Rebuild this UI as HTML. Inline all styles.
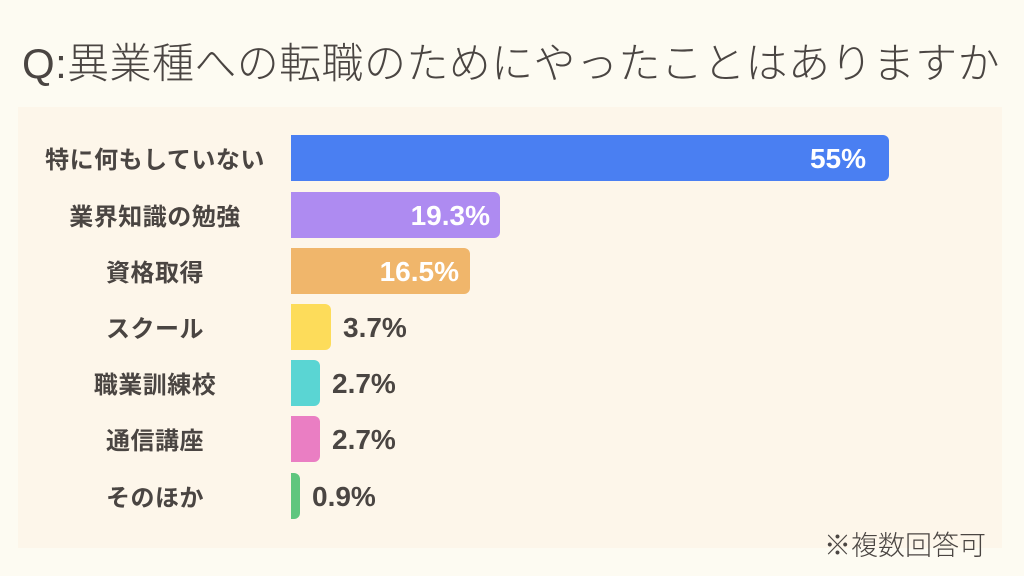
<!DOCTYPE html>
<html><head><meta charset="utf-8"><style>
body{margin:0;width:1024px;height:576px;background:#fdfbf2;position:relative;overflow:hidden;font-family:"Liberation Sans","Noto Sans CJK JP",sans-serif;color:#4a4542}
.t{position:absolute;left:22px;top:30px;font-size:42px;font-weight:300;letter-spacing:0.4px;white-space:nowrap}
.p{position:absolute;left:18px;top:107px;width:984px;height:441px;background:#fdf6ea}
.l{position:absolute;width:260px;left:25px;text-align:center;font-weight:bold;font-size:24px;letter-spacing:0.5px;height:46px;line-height:46px;margin-top:3px}
.b{position:absolute;left:291px;height:46px;border-radius:0 6px 6px 0}
.v{position:absolute;font-weight:bold;font-size:28px;height:46px;line-height:46px;margin-top:1px}
.w{color:#fff;text-align:right}
.n{position:absolute;right:38px;top:524px;font-size:27px;font-weight:300}
</style></head><body>
<div class="t">Q:異業種への転職のためにやったことはありますか</div>
<div class="p"></div>
<div class="l" style="top:135px">特に何もしていない</div>
<div class="b" style="top:135px;width:598px;background:#4a7ff2"></div>
<div class="v w" style="top:135px;left:291px;width:575px">55%</div>
<div class="l" style="top:192px">業界知識の勉強</div>
<div class="b" style="top:192px;width:209px;background:#ae8bf1"></div>
<div class="v w" style="top:192px;left:291px;width:199px">19.3%</div>
<div class="l" style="top:248px">資格取得</div>
<div class="b" style="top:248px;width:179px;background:#f0b66b"></div>
<div class="v w" style="top:248px;left:291px;width:168px">16.5%</div>
<div class="l" style="top:304px">スクール</div>
<div class="b" style="top:304px;width:40px;background:#fddc5a"></div>
<div class="v" style="top:304px;left:343px">3.7%</div>
<div class="l" style="top:360px">職業訓練校</div>
<div class="b" style="top:360px;width:29px;background:#5ad5d3"></div>
<div class="v" style="top:360px;left:332px">2.7%</div>
<div class="l" style="top:416px">通信講座</div>
<div class="b" style="top:416px;width:29px;background:#ea7ec3"></div>
<div class="v" style="top:416px;left:332px">2.7%</div>
<div class="l" style="top:473px">そのほか</div>
<div class="b" style="top:473px;width:9px;background:#5fc67e"></div>
<div class="v" style="top:473px;left:312px">0.9%</div>
<div class="n">※複数回答可</div>
</body></html>
